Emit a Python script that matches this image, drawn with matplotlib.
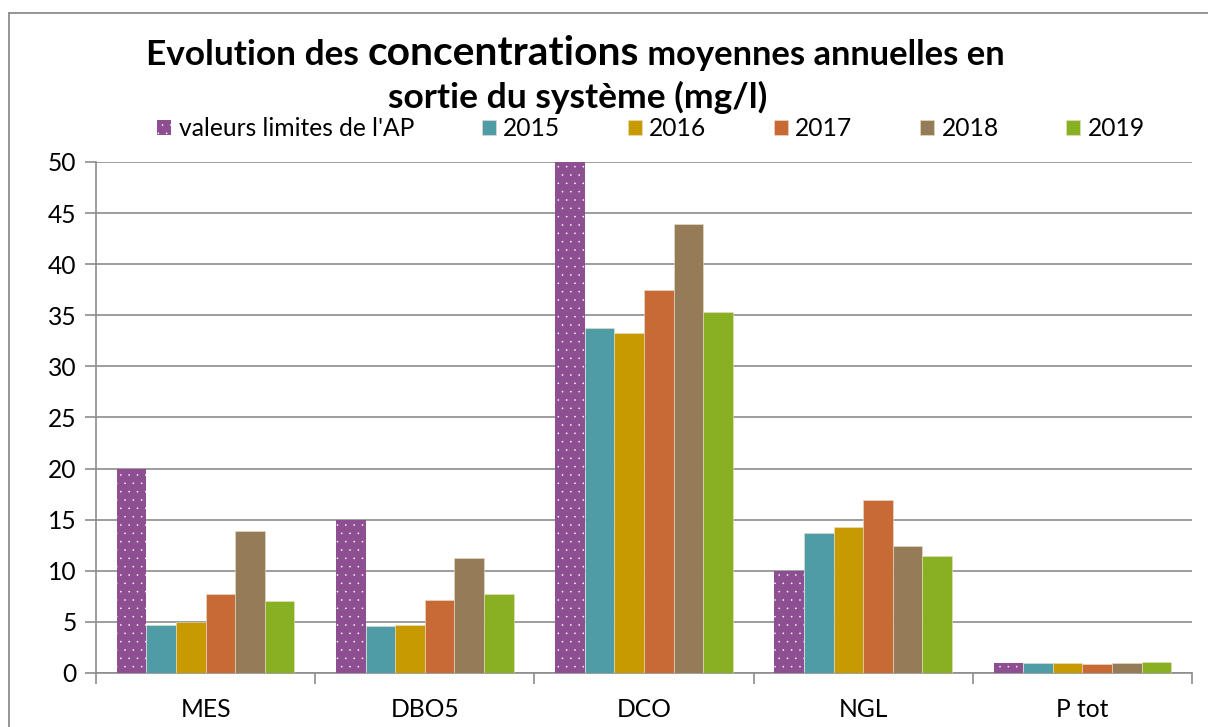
import numpy as np
import matplotlib
matplotlib.use("Agg")
import matplotlib.pyplot as plt
from matplotlib.lines import Line2D

plt.rcParams['font.family'] = ['Lato', 'DejaVu Sans']
plt.rcParams['hatch.linewidth'] = 0.0

# ---------------------------------------------------------------- data
categories = ["MES", "DBO5", "DCO", "NGL", "P tot"]
series_names = ["valeurs limites de l'AP", "2015", "2016", "2017", "2018", "2019"]
limites_ap = [20, 15, 50, 10, 1.0]
v2015 = [4.7, 4.6, 33.8, 13.7, 1.0]
v2016 = [5.0, 4.7, 33.3, 14.3, 0.95]
v2017 = [7.7, 7.1, 37.5, 16.9, 0.85]
v2018 = [13.9, 11.3, 43.9, 12.4, 1.0]
v2019 = [7.0, 7.7, 35.3, 11.4, 1.1]
yticks = [0, 5, 10, 15, 20, 25, 30, 35, 40, 45, 50]

colors = ["#8E4E92", "#4F9BA6", "#C69A00", "#C86A36", "#957B57", "#89AF22"]
grid_col = "#8C8C8C"
fs = 17.7

# ---------------------------------------------------------------- figure
fig = plt.figure(figsize=(12.08, 7.27), dpi=100)
ax = fig.add_axes([96 / 1208, 1 - 673 / 727, (1192 - 96) / 1208, (673 - 162) / 727])

x = np.arange(len(categories))
w = 0.135
all_series = [limites_ap, v2015, v2016, v2017, v2018, v2019]
handles = []
for i, vals in enumerate(all_series):
    pos = x + (i - 2.5) * w
    if i == 0:
        b = ax.bar(pos, vals, w, color=colors[i], edgecolor="white",
                   linewidth=0, hatch="..", zorder=3, label=series_names[i])
    else:
        b = ax.bar(pos, vals, w, color=colors[i], edgecolor="#E8E0C8",
                   linewidth=0.4, zorder=3, label=series_names[i])
    handles.append(b)

ax.set_xlim(-0.5, 4.5)
ax.set_ylim(0, 50)
ax.set_yticks(yticks)
ax.set_yticklabels([str(t) for t in yticks], fontsize=fs)
ax.yaxis.grid(True, color=grid_col, linewidth=1.2, zorder=0)
ax.tick_params(axis="y", length=8, width=1.2, color=grid_col, pad=6)

ax.set_xticks(x)
ax.set_xticklabels(categories, fontsize=fs)
ax.set_xticks(np.arange(-0.5, 5, 1), minor=True)
ax.tick_params(axis="x", which="major", length=0, pad=18)
ax.tick_params(axis="x", which="minor", length=8, width=1.2, color=grid_col)

for s in ["top", "right"]:
    ax.spines[s].set_visible(False)
for s in ["left", "bottom"]:
    ax.spines[s].set_color(grid_col)
    ax.spines[s].set_linewidth(1.2)

# legend
leg = fig.legend(handles=handles, labels=series_names, loc="center",
                 bbox_to_anchor=(651 / 1208, 1 - 129 / 727), ncol=6,
                 frameon=False, fontsize=fs, handlelength=0.57,
                 handleheight=0.57, handletextpad=0.3, columnspacing=2.75,
                 borderpad=0.2)

# title with mixed sizes on first line
renderer = fig.canvas.get_renderer()
parts = [("Evolution des ", 25.4), ("concentrations", 29.3), (" moyennes annuelles en", 24.8)]
texts = [fig.text(0, 1 - 65 / 727, t, fontsize=s, fontweight="bold", va="baseline")
         for t, s in parts]
widths = [t.get_window_extent(renderer).width for t in texts]
start = 575.5 - sum(widths) / 2
for t, wd in zip(texts, widths):
    t.set_x(start / 1208)
    start += wd
fig.text(577.5 / 1208, 1 - 108 / 727, "sortie du système (mg/l)", fontsize=25.5,
         fontweight="bold", ha="center", va="baseline")

# outer chart border (left and top visible)
fig.add_artist(Line2D([8.5 / 1208, 8.5 / 1208], [0, 1 - 13 / 727],
                      transform=fig.transFigure, color=grid_col, linewidth=1.3))
fig.add_artist(Line2D([8.5 / 1208, 1], [1 - 13 / 727, 1 - 13 / 727],
                      transform=fig.transFigure, color=grid_col, linewidth=1.3))

fig.savefig("out.png", dpi=100)
